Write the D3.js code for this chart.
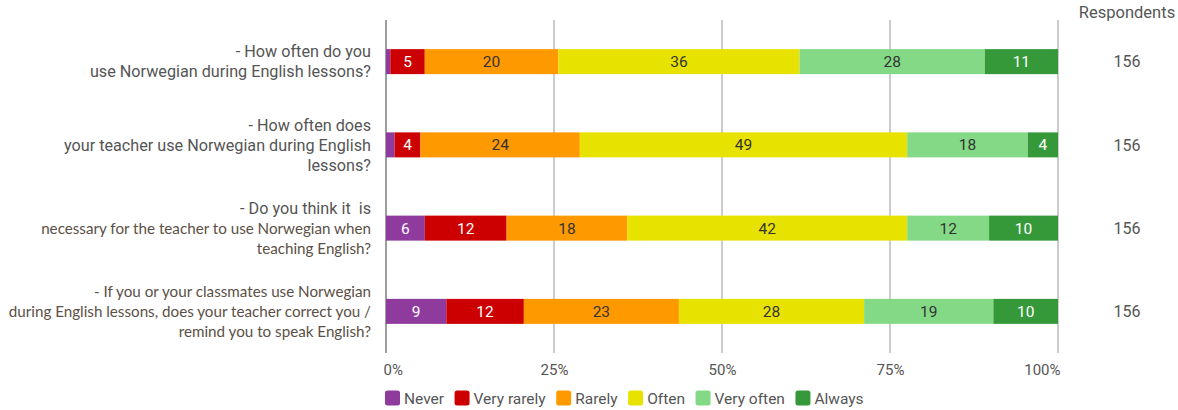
<!DOCTYPE html>
<html>
<head>
<meta charset="utf-8">
<script src="https://cdn.jsdelivr.net/npm/d3@7"></script>
<style>
  html, body { margin: 0; padding: 0; background: #fff; }
  svg { display: block; }
</style>
</head>
<body>
<svg id="chart" width="1178" height="410"></svg>
<script>
// Survey questions, one array of text lines per question
const questions = [
  ["- How often do you", "use Norwegian during English lessons?"],
  ["- How often does", "your teacher use Norwegian during English", "lessons?"],
  ["- Do you think it  is", "necessary for the teacher to use Norwegian when", "teaching English?"],
  ["- If you or your classmates use Norwegian", "during English lessons, does your teacher correct you /", "remind you to speak English?"]
];
// Lines typed in the second (pasted) typeface: [question, line]
const pastedLines = [[2, 1], [2, 2], [3, 0], [3, 1], [3, 2]];

// Answer categories and number of respondents per answer, per question
const answers = ["Never", "Very rarely", "Rarely", "Often", "Very often", "Always"];
const never      = [1, 2, 9, 14];
const veryRarely = [8, 6, 19, 18];
const rarely     = [31, 37, 28, 36];
const often      = [56, 76, 65, 43];
const veryOften  = [43, 28, 19, 30];
const always     = [17, 7, 16, 15];

const tickValues = [0, 0.25, 0.5, 0.75, 1];
const tickLabels = ["0%", "25%", "50%", "75%", "100%"];

const colors = ["#8e3b9d", "#cc0000", "#ff9900", "#e8e200", "#83d985", "#35993a"];
const labelColors = ["#ffffff", "#ffffff", "#333333", "#333333", "#333333", "#ffffff"];

const seriesValues = [never, veryRarely, rarely, often, veryOften, always];
const rows = questions.map((q, i) => {
  const row = { index: i };
  answers.forEach((a, k) => { row[a] = seriesValues[k][i]; });
  row.total = d3.sum(seriesValues, s => s[i]);
  return row;
});

const svg = d3.select("#chart");
const margin = { left: 386, right: 120, top: 20, bottom: 57 };
const W = 1178, H = 410;
const FONT = "Roboto, sans-serif";

const x = d3.scaleLinear().domain([0, 1]).range([margin.left, W - margin.right]);
const y = d3.scaleBand().domain(d3.range(questions.length))
  .range([margin.top, H - margin.bottom]).paddingInner(0.7).paddingOuter(0.35);

const stack = d3.stack().keys(answers).offset(d3.stackOffsetExpand);
const layers = stack(rows);

// Gridlines
svg.append("g").selectAll("line").data(tickValues).join("line")
  .attr("x1", d => x(d)).attr("x2", d => x(d))
  .attr("y1", margin.top).attr("y2", H - margin.bottom)
  .attr("stroke", d => d === 0 ? "#9e9e9e" : "#cccccc")
  .attr("stroke-width", 1.2)
  .attr("shape-rendering", "crispEdges");

// Tick labels via axis; the end labels are kept inside the plot width
const xAxis = d3.axisBottom(x).tickValues(tickValues)
  .tickFormat((d, i) => tickLabels[i]).tickSize(0).tickPadding(0);
const axisG = svg.append("g").attr("transform", `translate(0,${H - margin.bottom + 11})`).call(xAxis);
axisG.select(".domain").remove();
axisG.selectAll("text")
  .attr("font-family", FONT).attr("font-size", 15)
  .attr("fill", "#555").attr("dy", "0.7em")
  .attr("text-anchor", d => d === 0 ? "start" : d === 1 ? "end" : "middle")
  .attr("x", d => d === 0 ? -3 : d === 1 ? 2 : 0);

// Stacked bars
const bh = 25;
const layerG = svg.append("g").selectAll("g").data(layers).join("g")
  .attr("fill", (d, k) => colors[k]);
layerG.selectAll("rect").data(d => d).join("rect")
  .attr("x", d => x(d[0]))
  .attr("width", d => x(d[1]) - x(d[0]))
  .attr("y", (d, i) => y(i) + y.bandwidth() / 2 - bh / 2)
  .attr("height", bh);

// Segment labels (rounded percentages)
layers.forEach((layer, k) => {
  svg.append("g").selectAll("text").data(layer).join("text")
    .filter(d => x(d[1]) - x(d[0]) > 14)
    .attr("x", d => (x(d[0]) + x(d[1])) / 2)
    .attr("y", d => y(d.data.index) + y.bandwidth() / 2)
    .attr("text-anchor", "middle").attr("dy", "0.36em")
    .attr("font-family", FONT).attr("font-size", 15.5)
    .attr("fill", labelColors[k])
    .text(d => Math.round((d[1] - d[0]) * 100));
});

// Question labels
const isPasted = (i, j) => pastedLines.some(p => p[0] === i && p[1] === j);
const qG = svg.append("g");
questions.forEach((lines, i) => {
  const cy = y(i) + y.bandwidth() / 2;
  const lh = 20;
  const t = qG.append("text").attr("text-anchor", "end").style("white-space", "pre");
  lines.forEach((line, j) => {
    const alt = isPasted(i, j);
    t.append("tspan")
      .attr("x", 371)
      .attr("y", cy + (j - (lines.length - 1) / 2) * lh)
      .attr("dy", "0.36em")
      .attr("font-family", alt ? "Lato, sans-serif" : FONT)
      .attr("font-size", alt ? 15.2 : 16.2)
      .attr("fill", alt ? "#5b4f46" : "#555555")
      .text(line);
  });
});

// Respondents column
const rx = 1127;
svg.append("text").attr("x", rx).attr("y", 12).attr("dy", "0.36em")
  .attr("text-anchor", "middle").attr("font-family", FONT)
  .attr("font-size", 16.5).attr("fill", "#555").text("Respondents");
svg.append("g").selectAll("text").data(rows).join("text")
  .attr("x", rx).attr("y", d => y(d.index) + y.bandwidth() / 2).attr("dy", "0.36em")
  .attr("text-anchor", "middle").attr("font-family", FONT)
  .attr("font-size", 16).attr("fill", "#555").text(d => d.total);

// Legend
const legend = svg.append("g").attr("transform", `translate(385, 398)`);
let lx = 0;
answers.forEach((a, k) => {
  const g = legend.append("g").attr("transform", `translate(${lx},0)`);
  g.append("rect").attr("x", 0).attr("y", -7.5).attr("width", 15).attr("height", 15)
    .attr("rx", 2.5).attr("fill", colors[k]);
  const txt = g.append("text").attr("x", 19).attr("dy", "0.36em")
    .attr("font-family", FONT).attr("font-size", 15.5)
    .attr("fill", "#555").text(a);
  lx += 19 + txt.node().getComputedTextLength() + 10.5;
});
</script>
</body>
</html>
